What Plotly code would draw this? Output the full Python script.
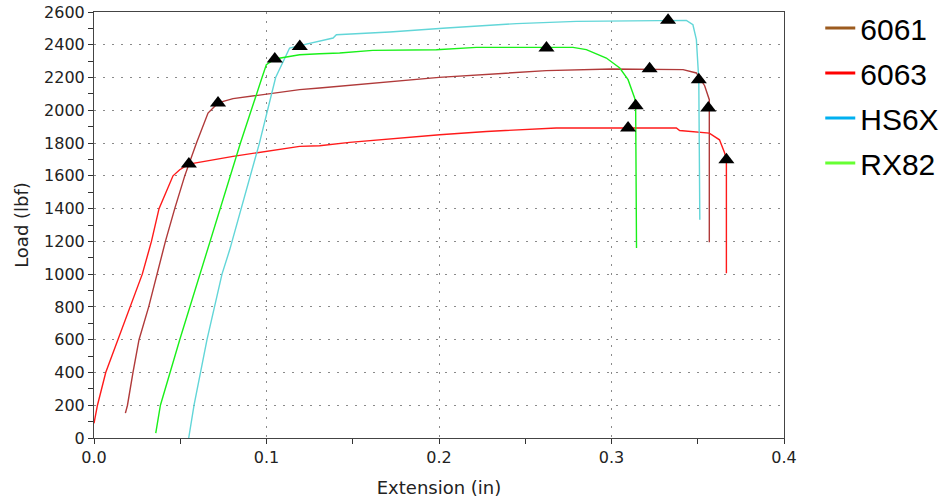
import plotly.graph_objects as go

# ---------------- data ----------------
series_names = ["6061", "6063", "HS6X", "RX82"]

ext_6061 = [0.0182, 0.0194, 0.0226, 0.0261, 0.0317, 0.0365, 0.0414, 0.0468, 0.0526, 0.0594,
            0.0661, 0.0719, 0.0806, 0.1192, 0.1308, 0.2000, 0.2622, 0.3000, 0.3415, 0.3492,
            0.3540, 0.3567, 0.3567]
load_6061 = [152, 200, 400, 600, 800, 1000, 1200, 1400, 1600, 1800,
             1983, 2045, 2071, 2126, 2136, 2201, 2242, 2252, 2248, 2228,
             2150, 2065, 1195]

ext_6063 = [0.0, 0.0020, 0.0068, 0.0139, 0.0213, 0.0280, 0.0333, 0.0377, 0.0458, 0.0497,
            0.0550, 0.0806, 0.1192, 0.1308, 0.1482, 0.1772, 0.2004, 0.2275, 0.2680, 0.3376,
            0.3395, 0.3567, 0.3626, 0.3656, 0.3666, 0.3666]
load_6063 = [90, 200, 400, 600, 800, 1000, 1200, 1400, 1600, 1637,
             1672, 1719, 1780, 1784, 1804, 1831, 1851, 1871, 1892, 1892,
             1877, 1861, 1820, 1739, 1698, 1005]

ext_hs6x = [0.0549, 0.0580, 0.0655, 0.0742, 0.0787, 0.0800, 0.0959, 0.1053, 0.1096, 0.1134,
            0.1193, 0.1308, 0.1386, 0.1405, 0.1714, 0.2043, 0.2449, 0.2797, 0.3434, 0.3472,
            0.3492, 0.3506, 0.3512]
load_hs6x = [0, 200, 600, 1000, 1150, 1200, 1800, 2200, 2300, 2380,
             2395, 2420, 2441, 2461, 2478, 2502, 2529, 2543, 2549, 2522,
             2431, 2187, 1332]

ext_rx82 = [0.0358, 0.0385, 0.0497, 0.0613, 0.0671, 0.0849, 0.0974, 0.0999, 0.1048, 0.1134,
            0.1192, 0.1308, 0.1424, 0.1616, 0.1985, 0.2217, 0.2623, 0.2777, 0.2854, 0.2970,
            0.3048, 0.3096, 0.3134, 0.3140, 0.3145]
load_rx82 = [30, 200, 600, 1000, 1200, 1800, 2200, 2278, 2313, 2329,
             2339, 2345, 2350, 2366, 2370, 2384, 2384, 2384, 2370, 2319,
             2258, 2187, 2075, 2028, 1160]

# triangle markers (yield, max, break) per series
mark_ext_6061 = [0.0719, 0.3221, 0.3561]
mark_load_6061 = [2045, 2254, 2014]
mark_ext_6063 = [0.0550, 0.3096, 0.3666]
mark_load_6063 = [1672, 1892, 1698]
mark_ext_hs6x = [0.1193, 0.3328, 0.3506]
mark_load_hs6x = [2390, 2549, 2187]
mark_ext_rx82 = [0.1048, 0.2623, 0.3140]
mark_load_rx82 = [2313, 2380, 2028]

x_ticks = [0.0, 0.1, 0.2, 0.3, 0.4]
x_ticklabels = ["0.0", "0.1", "0.2", "0.3", "0.4"]
y_ticks = list(range(0, 2601, 200))

# ---------------- style ----------------
plot_colors = {"6061": "#B03A3A", "6063": "#FF1A1A", "HS6X": "#62D6D8", "RX82": "#19F019"}
legend_colors = {"6061": "#9C5B1F", "6063": "#FF0000", "HS6X": "#00B0F0", "RX82": "#66FF33"}

curves = {
    "6061": (ext_6061, load_6061, mark_ext_6061, mark_load_6061),
    "6063": (ext_6063, load_6063, mark_ext_6063, mark_load_6063),
    "HS6X": (ext_hs6x, load_hs6x, mark_ext_hs6x, mark_load_hs6x),
    "RX82": (ext_rx82, load_rx82, mark_ext_rx82, mark_load_rx82),
}

fig = go.Figure()

for name in series_names:
    xs, ys, mx, my = curves[name]
    fig.add_trace(go.Scatter(x=xs, y=ys, mode="lines", line=dict(color=plot_colors[name], width=1.4),
                             showlegend=False, hoverinfo="x+y", name=name))

for name in series_names:
    xs, ys, mx, my = curves[name]
    fig.add_trace(go.Scatter(x=mx, y=my, mode="markers",
                             marker=dict(symbol="triangle-up", size=14, color="black"),
                             showlegend=False, name=name + " points"))

# legend entries (legend colours differ from the plotted line colours)
for i, name in enumerate(series_names):
    fig.add_trace(go.Scatter(x=[None], y=[None], mode="lines", name=name,
                             line=dict(color=legend_colors[name], width=3),
                             legendgroup="g" + str(i), showlegend=True))

axis_common = dict(
    automargin=False,
    showline=True, linecolor="#444444", linewidth=1, mirror=True,
    ticks="outside", ticklen=5, tickcolor="#333333", tickwidth=1,
    showgrid=True, gridcolor="#8a8a8a", gridwidth=1, griddash="2px,7px",
    zeroline=False, ticklabeloverflow="allow",
    tickfont=dict(family="DejaVu Sans", size=16, color="#222222"),
)

fig.update_xaxes(range=[0, 0.4], tickvals=x_ticks, ticktext=x_ticklabels,
                 minor=dict(dtick=0.05, ticklen=5, tickcolor="#333333", showgrid=False, ticks="outside"),
                 title=dict(text="Extension (in)", font=dict(family="DejaVu Sans", size=18, color="#222222")),
                 **axis_common)
fig.update_yaxes(range=[0, 2600], tickvals=y_ticks,
                 minor=dict(dtick=100, ticklen=5, tickcolor="#333333", showgrid=False, ticks="outside"),
                 title=dict(text="Load (lbf)", font=dict(family="DejaVu Sans", size=18, color="#222222"),
                            standoff=10),
                 **axis_common)

fig.update_layout(
    width=945, height=501,
    margin=dict(l=94, r=161, t=12, b=63, autoexpand=False),
    plot_bgcolor="white", paper_bgcolor="white",
    legend=dict(xref="container", yref="container", x=0.868, y=0.996, xanchor="left", yanchor="top",
                font=dict(family="Liberation Sans", size=30, color="#000000"),
                tracegroupgap=3, itemwidth=30, bgcolor="rgba(0,0,0,0)"),
)

fig.write_html("out.html", config={"displayModeBar": False},
               post_script="document.body.style.margin='0px';")
